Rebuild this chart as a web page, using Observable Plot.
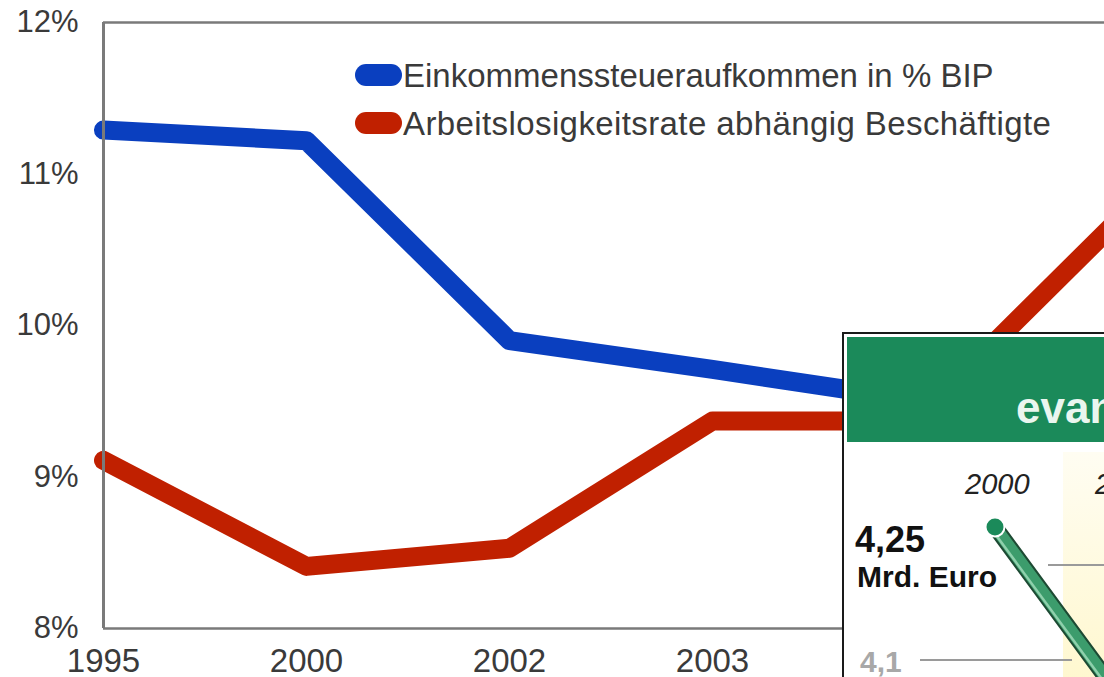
<!DOCTYPE html>
<html><head><meta charset="utf-8">
<script src="https://cdn.jsdelivr.net/npm/d3@7"></script>
<script src="https://cdn.jsdelivr.net/npm/@observablehq/plot@0.6"></script>
<style>
html,body{margin:0;padding:0;background:#fff;overflow:hidden;width:1104px;height:677px;}
#wrap{position:relative;width:1104px;height:677px;overflow:hidden;font-family:"Liberation Sans",Arial,sans-serif;}
#chart svg{overflow:hidden;display:block;}
.abs{position:absolute;white-space:nowrap;line-height:1;}
.legtxt{font-size:33px;color:#3a3a3a;}
.sw{width:47px;height:22px;border-radius:11px;}
</style>
</head><body>
<div id="wrap">
  <div id="chart"></div>
  <div class="abs sw" style="left:355px;top:64px;background:#0a3fbf;"></div>
  <div class="abs legtxt" style="left:403px;top:59px;">Einkommenssteueraufkommen in % BIP</div>
  <div class="abs sw" style="left:355px;top:112px;background:#c02000;"></div>
  <div class="abs legtxt" style="left:403px;top:107px;letter-spacing:0.4px;">Arbeitslosigkeitsrate abhängig Beschäftigte</div>

  <!-- overlapping inset picture -->
  <div class="abs" style="left:842px;top:332px;width:400px;height:400px;border:2px solid #1a1a1a;background:#fff;box-sizing:border-box;"></div>
  <div class="abs" style="left:847px;top:337px;width:400px;height:105px;background:#1b8a5a;"></div>
  <div class="abs" style="left:1016px;top:386px;font-size:44px;font-weight:bold;color:#eaf6ef;">evan</div>
  <div class="abs" style="left:1063px;top:452px;width:100px;height:300px;background:linear-gradient(to bottom,#fffdf2,#fff6c4);"></div>
  <div class="abs" style="left:965px;top:470px;font-size:29px;font-style:italic;color:#222;">2000</div>
  <div class="abs" style="left:1095px;top:470px;font-size:29px;font-style:italic;color:#222;">2001</div>
  <div class="abs" style="left:1048px;top:564px;width:100px;height:2px;background:#9a9a9a;"></div>
  <div class="abs" style="left:920px;top:659px;width:152px;height:2px;background:#9a9a9a;"></div>
  <div class="abs" style="left:860px;top:647px;font-size:30px;font-weight:bold;color:#a8a8a8;">4,1</div>
  <div class="abs" style="left:855px;top:522px;font-size:36px;font-weight:bold;color:#111;">4,25</div>
  <div class="abs" style="left:857px;top:562px;font-size:30px;font-weight:bold;color:#111;">Mrd. Euro</div>
  <svg class="abs" style="left:0;top:0;" width="1104" height="677">
    <line x1="995" y1="527" x2="1140" y2="724" stroke="#1d4a33" stroke-width="16" stroke-linecap="round"/>
    <line x1="995" y1="527" x2="1140" y2="724" stroke="#3c9c6c" stroke-width="12" stroke-linecap="round"/>
    <line x1="993" y1="531" x2="1138" y2="728" stroke="#8fd0ac" stroke-width="2.5"/>
    <circle cx="995" cy="527" r="9.5" fill="#1b8a5a" stroke="#fff" stroke-width="2"/>
  </svg>
</div>
<script>
const years = ["1995", "2000", "2002", "2003", "2004", "2005"];
const incomeTax = [11.29, 11.22, 9.90, 9.71, 9.51, 9.45];   // Einkommenssteueraufkommen in % BIP
const unemployment = [9.11, 8.41, 8.53, 9.37, 9.37, 10.70]; // Arbeitslosigkeitsrate abhängig Beschäftigte
const yTicks = [8, 9, 10, 11, 12];

const rows = [];
years.forEach((y, i) => {
  rows.push({year: y, value: incomeTax[i], series: "tax"});
  rows.push({year: y, value: unemployment[i], series: "unemp"});
});

const chart = Plot.plot({
  width: 1104,
  height: 677,
  marginLeft: 103,
  marginRight: 0,
  marginTop: 22,
  marginBottom: 49,
  style: {fontFamily: "'Liberation Sans', Arial, sans-serif", background: "#fff"},
  x: {type: "point", domain: years, range: [103, 1118], padding: 0},
  y: {domain: [8, 12], range: [628, 22]},
  marks: [
    Plot.line(rows.filter(d => d.series === "tax"), {x: "year", y: "value", stroke: "#0a3fbf", strokeWidth: 19, strokeLinejoin: "round", strokeLinecap: "round"}),
    Plot.line(rows.filter(d => d.series === "unemp"), {x: "year", y: "value", stroke: "#c02000", strokeWidth: 19, strokeLinejoin: "round", strokeLinecap: "round"}),
    Plot.ruleY([8, 12], {stroke: "#7a7a7a", strokeWidth: 2.5}),
    Plot.ruleX([years[0]], {stroke: "#7a7a7a", strokeWidth: 3}),
    Plot.axisY({ticks: yTicks, tickSize: 0, tickPadding: 25, tickFormat: d => d + "%", fontSize: 31, fill: "#3a3a3a", label: null}),
    Plot.axisX({ticks: years, tickSize: 0, tickPadding: 20, fontSize: 33, fill: "#3a3a3a", label: null})
  ]
});
document.getElementById("chart").appendChild(chart);
</script>
</body></html>
